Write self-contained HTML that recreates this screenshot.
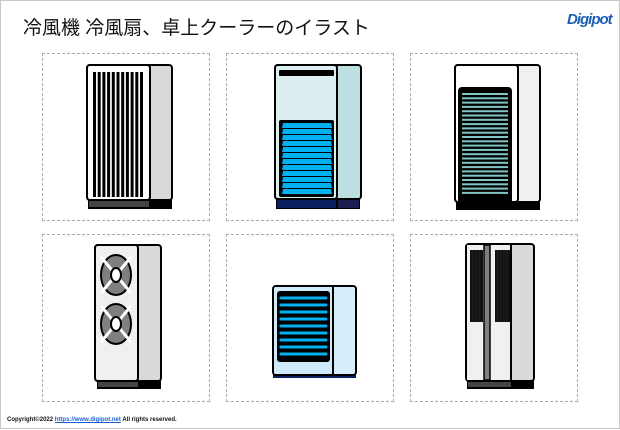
<!DOCTYPE html>
<html><head><meta charset="utf-8"><style>
html,body{margin:0;padding:0;background:#fff}
body{width:620px;height:430px;position:relative;overflow:hidden;font-family:"Liberation Sans","Noto Sans CJK JP",sans-serif}
.frame{position:absolute;left:0;top:0;width:618px;height:427px;border:1px solid #c8c8c8}
.t{position:absolute;left:23px;top:13px;font-size:19px;color:#111;white-space:nowrap}
.p{position:absolute;width:168px;height:168px;border:1px dashed #aaa;box-sizing:border-box}
.c{position:absolute;left:7px;top:417px;font-size:6px;font-weight:bold;color:#111;white-space:nowrap}
.c span{color:#1a5fd0;text-decoration:underline}
.logo{position:absolute;left:567px;top:11px;font-size:15px;font-weight:bold;color:#1d5fb3;font-style:italic;letter-spacing:-1px;white-space:nowrap}
svg{position:absolute;left:0;top:0}
</style></head><body>
<div class="frame"></div>
<div class="t">冷風機 冷風扇、卓上クーラーのイラスト</div>
<div class="logo">Digipot</div>
<div class="p" style="left:42px;top:53px"></div>
<div class="p" style="left:226px;top:53px"></div>
<div class="p" style="left:410px;top:53px"></div>
<div class="p" style="left:42px;top:234px"></div>
<div class="p" style="left:226px;top:234px"></div>
<div class="p" style="left:410px;top:234px"></div>
<svg width="620" height="430" viewBox="0 0 620 430">
<!-- icon1 -->
<rect x="88" y="199" width="84" height="10" fill="#000"/>
<rect x="89" y="201" width="60" height="6" fill="#444"/>
<rect x="87" y="65" width="85" height="135" rx="3" fill="#d9d9d9" stroke="#000" stroke-width="2"/>
<rect x="87" y="65" width="63" height="135" rx="3" fill="#fff" stroke="#000" stroke-width="2"/>
<g fill="#000">
<rect x="93" y="72" width="3" height="125"/><rect x="97.7" y="72" width="3" height="125"/><rect x="102.4" y="72" width="3" height="125"/><rect x="107.1" y="72" width="3" height="125"/><rect x="111.8" y="72" width="3" height="125"/><rect x="116.5" y="72" width="3" height="125"/><rect x="121.2" y="72" width="3" height="125"/><rect x="125.9" y="72" width="3" height="125"/><rect x="130.6" y="72" width="3" height="125"/><rect x="135.3" y="72" width="3" height="125"/><rect x="140" y="72" width="3" height="125"/>
</g>
<!-- icon2 -->
<rect x="276" y="199" width="84" height="10" fill="#000"/>
<rect x="277" y="200" width="59" height="8" fill="#0c2060"/>
<rect x="338" y="200" width="21" height="8" fill="#1c1c50"/>
<rect x="275" y="65" width="86" height="134" rx="3" fill="#bde0e3" stroke="#000" stroke-width="2"/>
<rect x="275" y="65" width="62" height="134" rx="3" fill="#dbeef0" stroke="#000" stroke-width="2"/>
<rect x="279" y="70" width="55" height="6" rx="1" fill="#000"/>
<rect x="279" y="120" width="55" height="77" rx="2" fill="#000"/>
<g fill="#00b0f0">
<polygon points="282,128 332,128 331,123 283,123"/>
<polygon points="282,134 332,134 331,129 283,129"/>
<polygon points="282,140 332,140 331,135 283,135"/>
<polygon points="282,146 332,146 331,141 283,141"/>
<polygon points="282,152 332,152 331,147 283,147"/>
<polygon points="282,158 332,158 331,153 283,153"/>
<polygon points="282,164 332,164 331,159 283,159"/>
<polygon points="282,170 332,170 331,165 283,165"/>
<polygon points="282,176 332,176 331,171 283,171"/>
<polygon points="282,182 332,182 331,177 283,177"/>
<polygon points="282,188 332,188 331,183 283,183"/>
<polygon points="282,194 332,194 331,189 283,189"/>
</g>
<!-- icon3 -->
<rect x="455" y="65" width="85" height="137" rx="3" fill="#f0f0f0" stroke="#000" stroke-width="2"/>
<rect x="455" y="65" width="63" height="137" rx="3" fill="#fff" stroke="#000" stroke-width="2"/>
<rect x="456" y="201" width="84" height="9" fill="#000"/>
<rect x="458" y="87" width="54" height="118" rx="4" fill="#000"/>
<g fill="#80c4c4">
<rect x="462" y="93" width="46" height="2"/><rect x="462" y="97.3" width="46" height="2"/><rect x="462" y="101.6" width="46" height="2"/><rect x="462" y="105.9" width="46" height="2"/><rect x="462" y="110.2" width="46" height="2"/><rect x="462" y="114.5" width="46" height="2"/><rect x="462" y="118.8" width="46" height="2"/><rect x="462" y="123.1" width="46" height="2"/><rect x="462" y="127.4" width="46" height="2"/><rect x="462" y="131.7" width="46" height="2"/><rect x="462" y="136" width="46" height="2"/><rect x="462" y="140.3" width="46" height="2"/><rect x="462" y="144.6" width="46" height="2"/><rect x="462" y="148.9" width="46" height="2"/><rect x="462" y="153.2" width="46" height="2"/><rect x="462" y="157.5" width="46" height="2"/><rect x="462" y="161.8" width="46" height="2"/><rect x="462" y="166.1" width="46" height="2"/><rect x="462" y="170.4" width="46" height="2"/><rect x="462" y="174.7" width="46" height="2"/><rect x="462" y="179" width="46" height="2"/><rect x="462" y="183.3" width="46" height="2"/><rect x="462" y="187.6" width="46" height="2"/><rect x="462" y="191.9" width="46" height="2"/>
</g>
<!-- icon4 -->
<rect x="97" y="380" width="64" height="9" fill="#000"/>
<rect x="98" y="382" width="40" height="5" fill="#444"/>
<rect x="95" y="245" width="66" height="136" rx="3" fill="#d9d9d9" stroke="#000" stroke-width="2"/>
<rect x="95" y="245" width="43" height="136" rx="3" fill="#f0f0f0" stroke="#000" stroke-width="2"/>
<g stroke-width="2">
<ellipse cx="116" cy="275" rx="15" ry="20" fill="#7f7f7f" stroke="#000"/>
<line x1="101" y1="257" x2="131" y2="293" stroke="#fff" stroke-width="3"/>
<line x1="131" y1="257" x2="101" y2="293" stroke="#fff" stroke-width="3"/>
<ellipse cx="116" cy="275" rx="5" ry="7" fill="#fff" stroke="#000"/>
<ellipse cx="116" cy="324" rx="15" ry="20" fill="#7f7f7f" stroke="#000"/>
<line x1="101" y1="306" x2="131" y2="342" stroke="#fff" stroke-width="3"/>
<line x1="131" y1="306" x2="101" y2="342" stroke="#fff" stroke-width="3"/>
<ellipse cx="116" cy="324" rx="5" ry="7" fill="#fff" stroke="#000"/>
</g>
<!-- icon5 -->
<rect x="273" y="374" width="83" height="4" fill="#0c2060"/>
<rect x="273" y="286" width="83" height="89" rx="3" fill="#d6eefc" stroke="#000" stroke-width="2"/>
<line x1="333" y1="286" x2="333" y2="375" stroke="#000" stroke-width="2"/>
<rect x="274" y="287" width="58" height="87" rx="2" fill="#cfeafb"/>
<rect x="277" y="291" width="53" height="71" rx="3" fill="#000"/>
<g stroke="#00b0f0" stroke-width="3" stroke-linecap="round">
<line x1="281" y1="298" x2="326" y2="298"/><line x1="281" y1="305" x2="326" y2="305"/><line x1="281" y1="312" x2="326" y2="312"/><line x1="281" y1="319" x2="326" y2="319"/><line x1="281" y1="326" x2="326" y2="326"/><line x1="281" y1="333" x2="326" y2="333"/><line x1="281" y1="340" x2="326" y2="340"/><line x1="281" y1="347" x2="326" y2="347"/><line x1="281" y1="354" x2="326" y2="354"/>
</g>
<!-- icon6 -->
<rect x="467" y="380" width="67" height="9" fill="#000"/>
<rect x="468" y="382" width="43" height="5" fill="#444"/>
<rect x="466" y="244" width="68" height="137" rx="3" fill="#d9d9d9" stroke="#000" stroke-width="2"/>
<rect x="467" y="245" width="44" height="135" fill="#f0f0f0"/>
<rect x="484" y="245" width="6" height="135" fill="#7f7f7f" stroke="#000" stroke-width="1.5"/>
<line x1="511" y1="244" x2="511" y2="381" stroke="#000" stroke-width="2"/>
<rect x="470" y="250" width="13" height="72" fill="#111"/>
<rect x="495" y="250" width="15" height="72" fill="#111"/>
<g stroke="#333" stroke-width="0.6">
<line x1="473" y1="250" x2="473" y2="322"/><line x1="476" y1="250" x2="476" y2="322"/><line x1="479" y1="250" x2="479" y2="322"/>
<line x1="498" y1="250" x2="498" y2="322"/><line x1="501" y1="250" x2="501" y2="322"/><line x1="504" y1="250" x2="504" y2="322"/><line x1="507" y1="250" x2="507" y2="322"/>
</g>
</svg>
<div class="c">Copyright©2022 <span>https://www.digipot.net</span> All rights reserved.</div>
</body></html>
